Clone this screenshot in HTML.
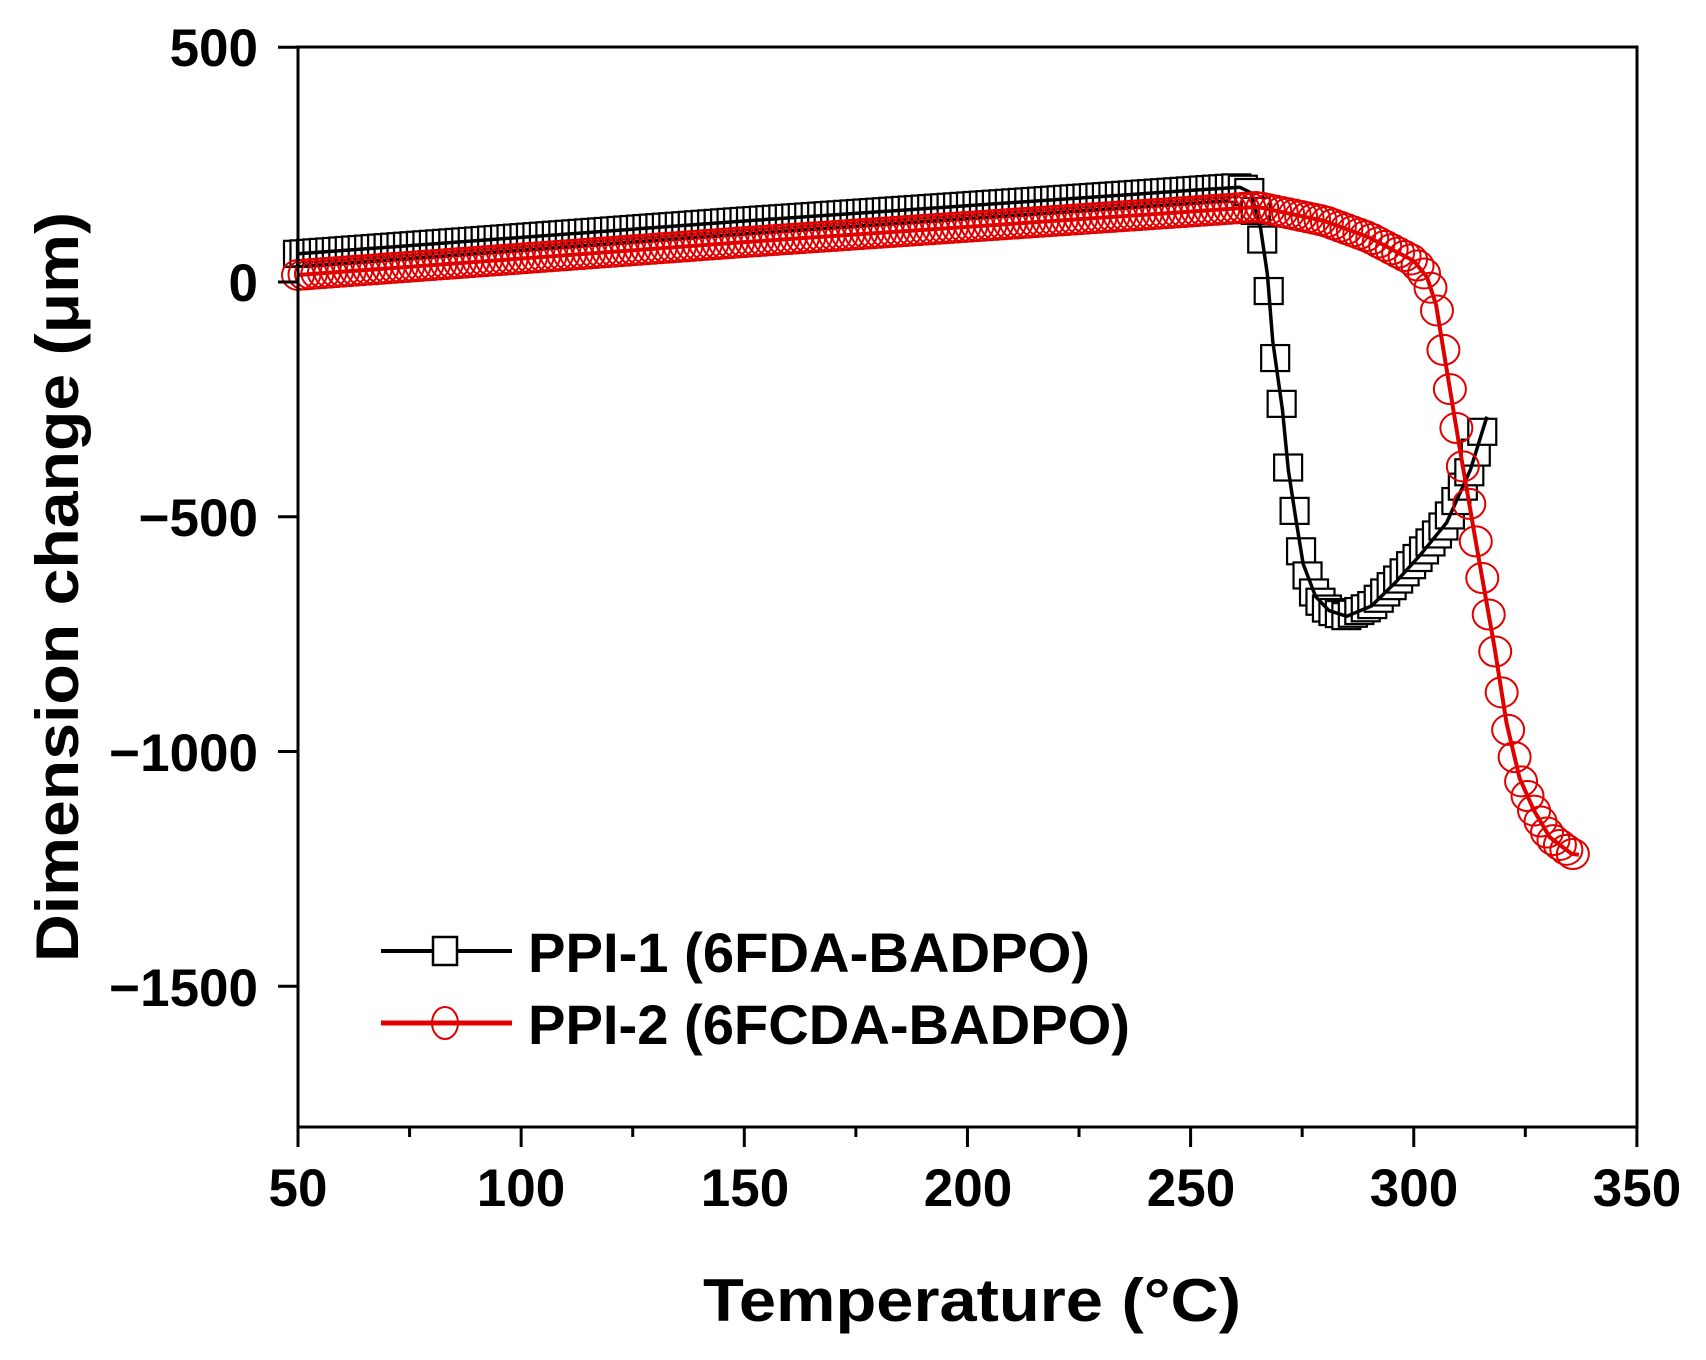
<!DOCTYPE html>
<html><head><meta charset="utf-8"><style>
html,body{margin:0;padding:0;background:#fff;}
svg{display:block;}
text{font-family:"Liberation Sans",Arial,sans-serif;font-weight:bold;fill:#000;}
</style></head><body>
<svg id="s" width="1706" height="1360" viewBox="0 0 1706 1360" xmlns="http://www.w3.org/2000/svg">
<g id="data"></g>
<rect x="298" y="47" width="1339" height="1080" fill="none" stroke="#000" stroke-width="3"/>
<g id="ticks" stroke="#000" stroke-width="3"></g>
<g font-size="53" text-anchor="end">
<text x="258" y="66">500</text>
<text x="258" y="301">0</text>
<text x="258" y="536">−500</text>
<text x="258" y="771">−1000</text>
<text x="258" y="1006">−1500</text>
</g>
<g font-size="53" text-anchor="middle">
<text x="298" y="1206">50</text>
<text x="521" y="1206">100</text>
<text x="745" y="1206">150</text>
<text x="968" y="1206">200</text>
<text x="1191" y="1206">250</text>
<text x="1414" y="1206">300</text>
<text x="1637" y="1206">350</text>
</g>
<text x="703" y="1321" font-size="60" textLength="538" lengthAdjust="spacingAndGlyphs">Temperature (°C)</text>
<text transform="translate(78,962) rotate(-90)" font-size="60" textLength="750" lengthAdjust="spacingAndGlyphs">Dimension change (μm)</text>
<line x1="381" y1="951" x2="512" y2="951" stroke="#000" stroke-width="4"/>
<rect x="433" y="937" width="24" height="28" fill="#fff" stroke="#000" stroke-width="2.5"/>
<line x1="381" y1="1023" x2="512" y2="1023" stroke="#e00000" stroke-width="5"/>
<ellipse cx="445" cy="1023" rx="13" ry="16" fill="none" stroke="#e00000" stroke-width="2"/>
<text x="528" y="972" font-size="56" textLength="562" lengthAdjust="spacingAndGlyphs">PPI-1 (6FDA-BADPO)</text>
<text x="528" y="1044" font-size="56" textLength="602" lengthAdjust="spacingAndGlyphs">PPI-2 (6FCDA-BADPO)</text>
</svg>
<script>
(function(){
var NS="http://www.w3.org/2000/svg";
function X(t){return 298+(t-50)*4.463;}
function Y(v){return 282-v*0.4695;}
var tk=document.getElementById('ticks');
function ln(x1,y1,x2,y2){var l=document.createElementNS(NS,'line');l.setAttribute('x1',x1);l.setAttribute('y1',y1);l.setAttribute('x2',x2);l.setAttribute('y2',y2);tk.appendChild(l);}
for(var t=50;t<=350;t+=25){var x=X(t);ln(x,1127,x,t%50==0?1147:1137);}
for(var v=500;v>=-1500;v-=500){ln(298,Y(v),278,Y(v));}
var p1=[[50,60],[150,130],[250,195],[261,202],[263.5,190],[265.7,113],[267.2,16],[268.4,-125],[270.6,-273],[271.9,-400],[273.5,-500],[275.2,-600],[278,-670],[281,-700],[285,-712],[290.5,-690],[296,-639],[301.5,-581],[307.4,-512],[312.7,-400],[316.4,-287]];
var p2=[[50,15],[150,85],[250,150],[265,160],[280,130],[290,95],[300,45],[303,10],[305,-49],[307.4,-188],[310.3,-354],[314,-558],[318.1,-778],[320.8,-940],[323.7,-1056],[326.9,-1125],[330.5,-1183],[335.4,-1218],[337,-1220]];
function interp(p,t){for(var i=0;i<p.length-1;i++){if(t<=p[i+1][0]){var f=(t-p[i][0])/(p[i+1][0]-p[i][0]);return p[i][1]+f*(p[i+1][1]-p[i][1]);}}return p[p.length-1][1];}
var g=document.getElementById('data');
function series(p,color,lw,sq){
 var d='';for(var i=0;i<p.length;i++){d+=(i?'L':'M')+X(p[i][0]).toFixed(1)+','+Y(p[i][1]).toFixed(1);}
 var tEnd=p[p.length-1][0];
 var mk=document.createElementNS(NS,'g');
 for(var t=50;t<=tEnd+0.01;t+=1.45){
  var x=X(t),y=Y(interp(p,t)),e;
  if(sq){e=document.createElementNS(NS,'rect');e.setAttribute('x',x-14);e.setAttribute('y',y-13);e.setAttribute('width',28);e.setAttribute('height',26);e.setAttribute('fill','#fff');e.setAttribute('stroke','#000');e.setAttribute('stroke-width','2.2');}
  else{e=document.createElementNS(NS,'ellipse');e.setAttribute('cx',x);e.setAttribute('cy',y);e.setAttribute('rx',16);e.setAttribute('ry',15);e.setAttribute('fill','none');e.setAttribute('stroke',color);e.setAttribute('stroke-width','2');}
  mk.appendChild(e);
 }
 g.appendChild(mk);
 var pa=document.createElementNS(NS,'path');pa.setAttribute('d',d);pa.setAttribute('fill','none');pa.setAttribute('stroke',color);pa.setAttribute('stroke-width',lw);pa.setAttribute('stroke-linejoin','round');
 g.appendChild(pa);
}
series(p1,'#000',3.5,true);
series(p2,'#e00000',4,false);
})();
</script>
</body></html>
